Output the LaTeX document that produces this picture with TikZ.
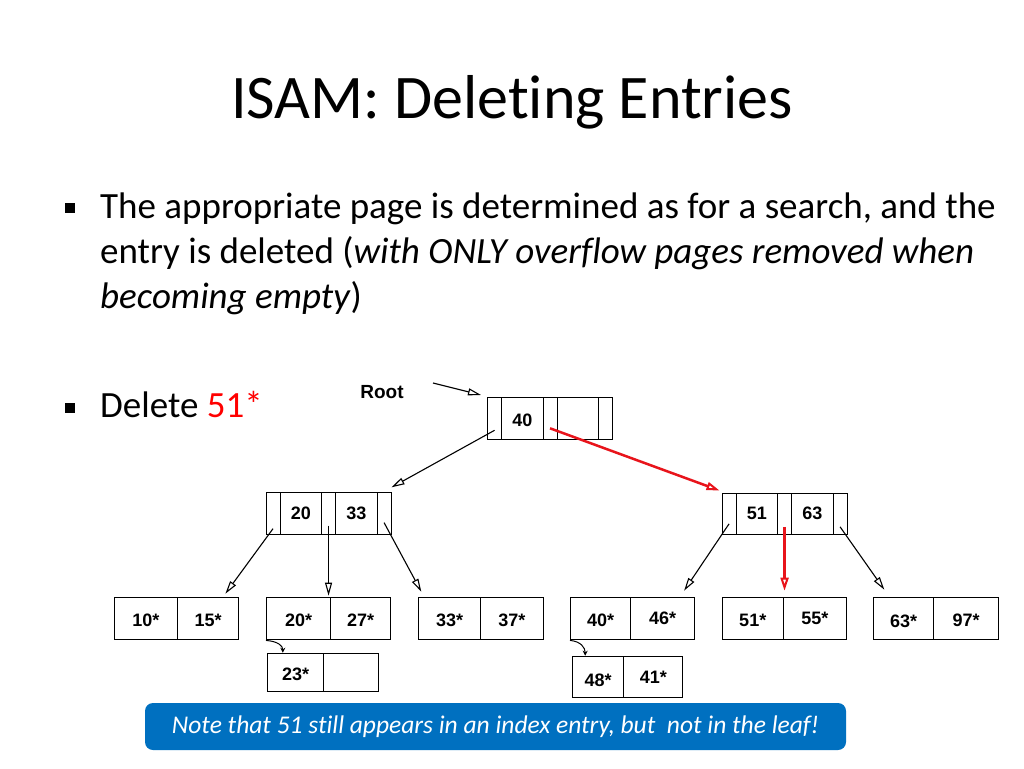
\documentclass[tikz,border=0pt]{standalone}
\usepackage{fontspec}
\setmainfont{Carlito}[Ligatures={NoCommon}]
\newfontfamily\arialfont{Liberation Sans}
\usetikzlibrary{arrows.meta,calc}
\definecolor{noteblue}{HTML}{0070C0}
\definecolor{delred}{HTML}{FF0000}
\definecolor{arrred}{HTML}{E8141B}
\begin{document}
\begin{tikzpicture}[x=1pt,y=-1pt,
  cell/.style={draw,line width=1.1pt,inner sep=0pt,anchor=north west,font=\arialfont\bfseries\fontsize{18}{18}\selectfont},
  ptr/.style={cell,minimum width=14pt,minimum height=41.5pt},
  key/.style={cell,minimum width=41.5pt,minimum height=41.5pt},
  leaf/.style={cell,minimum height=42.6pt,text height=15.9pt,text depth=0pt},
  up/.style={text height=11.9pt,text depth=0pt},
  low/.style={text height=17.9pt,text depth=0pt},
  link/.style={line width=1.1pt,-{Triangle[open,length=13pt,width=7pt]}},
  hot/.style={line width=2.5pt,draw=arrred,-{Triangle[open,length=13pt,width=8pt,line width=2pt]}},
  ovf/.style={line width=1pt,-{Stealth[length=5pt,width=5pt]}},
  body/.style={anchor=base west,inner sep=0pt,font=\fontsize{37}{37}\selectfont}
]
\useasboundingbox (0,0) rectangle (1024,768);
\fill[white] (0,0) rectangle (1024,768);

% title and text
\node[anchor=base,inner sep=0pt,font=\fontsize{62}{62}\selectfont] (title) at (512,118) {ISAM: Deleting Entries};
\fill (65,203) rectangle (75,213);
\node[body] (b1) at (100,218.5) {The appropriate page is determined as for a search, and the};
\node[body] (b2) at (100,263.5) {entry is deleted (\textit{with ONLY overflow pages removed when}};
\node[body] (b3) at (100,308) {\textit{becoming empty})};
\fill (65,403) rectangle (75,413);
\node[body] (b4) at (100,417.5) {Delete \textcolor{delred}{51*}};

% root
\node[ptr] (rp0) at (487,397) {};
\node[key,text height=15.9pt,text depth=0pt] (rk1) at (501,397) {40};
\node[ptr] (rp1) at (542.5,397) {};
\node[key] (rk2) at (556.5,397) {};
\node[ptr] (rp2) at (598,397) {};
\node[font=\arialfont\bfseries\fontsize{19}{19}\selectfont] (rootlbl) at (382,392) {Root};
\coordinate (rootfrom) at (433,383);

% left index
\node[ptr] (iLp0) at (265.5,492.3) {};
\node[key] (iLk1) at (279.5,492.3) {20};
\node[ptr] (iLp1) at (321,492.3) {};
\node[key] (iLk2) at (335,492.3) {33};
\node[ptr] (iLp2) at (376.5,492.3) {};

% right index
\node[ptr] (iRp0) at (721.5,492.5) {};
\node[key] (iRk1) at (735.5,492.5) {51};
\node[ptr] (iRp1) at (777,492.5) {};
\node[key] (iRk2) at (791,492.5) {63};
\node[ptr] (iRp2) at (832.5,492.5) {};

% leaves
\node[leaf,minimum width=62.7pt] (l10a) at (114,596.7) {10*};
\node[leaf,minimum width=61.6pt] (l10b) at (176.7,596.7) {15*};
\node[leaf,minimum width=64pt] (l20a) at (266,596.7) {20*};
\node[leaf,minimum width=60pt] (l20b) at (330,596.7) {27*};
\node[leaf,minimum width=61.7pt] (l33a) at (418.3,596.7) {33*};
\node[leaf,minimum width=62.7pt] (l33b) at (480,596.7) {37*};
\node[leaf,minimum width=60pt] (l40a) at (570,596.7) {40*};
\node[leaf,up,minimum width=64pt] (l40b) at (630,596.7) {46*};
\node[leaf,minimum width=61pt] (l51a) at (721.7,596.7) {51*};
\node[leaf,up,minimum width=63.3pt] (l51b) at (782.7,596.7) {55*};
\node[leaf,low,minimum width=59.4pt] (l63a) at (873.3,596.7) {63*};
\node[leaf,minimum width=65.6pt] (l63b) at (932.7,596.7) {97*};

% overflow pages
\node[cell,minimum width=55.4pt,minimum height=38pt,text height=15.9pt,text depth=0pt] (o23a) at (267.3,652.7) {23*};
\node[cell,minimum width=55.6pt,minimum height=38pt] (o23b) at (322.7,652.7) {};
\node[cell,low,minimum width=51.6pt,minimum height=41.6pt] (o48a) at (571.7,655.7) {48*};
\node[cell,up,minimum width=59pt,minimum height=41.6pt] (o48b) at (623.3,655.7) {41*};

% connectors
\draw[link] (rootfrom) -- ($(rp0.north west)+(-6,-2)$);
\draw[link] ($(rp0.center)+(0,12)$) -- ($(iLp2.north east)+(0,-5)$);
\draw[hot] ($(rp1.center)+(0,10)$) -- ($(iRp0.north west)+(-2,-2)$);

\draw[link] ($(iLp0.center)+(0,15)$) -- ($(l10b.north east)+(-14,-3)$);
\draw[link] ($(iLp1.center)+(0,12)$) -- ($(iLp1.center |- l20a.north)+(0,-1)$);
\draw[link] ($(iLp2.center)+(0,9)$) -- ($(l33a.north west)+(3,-5)$);

\draw[link] ($(iRp0.center)+(0,10)$) -- ($(l40b.north east)+(-11,-6)$);
\draw[hot] ($(iRp1.center)+(0,13)$) -- ($(iRp1.center |- l51b.north)+(0,-6)$);
\draw[link] ($(iRp2.center)+(0,13)$) -- ($(l63a.north west)+(11,-7)$);

\draw[ovf] (l20a.south west) .. controls +(12,1) and +(0,-7) .. ($(o23a.north west)+(15.5,0)$);
\draw[ovf] (l40a.south west) .. controls +(11,1) and +(0,-8) .. ($(o48a.north west)+(13.5,0)$);

% note
\node[fill=noteblue,rounded corners=8pt,minimum width=701pt,minimum height=47pt,inner sep=0pt,text=white,font=\itshape\fontsize{25.5}{25.5}\selectfont] (note) at (495.5,726.5) {Note that 51 still appears in an index entry, but\ \ not in the leaf!};
\end{tikzpicture}
\end{document}
